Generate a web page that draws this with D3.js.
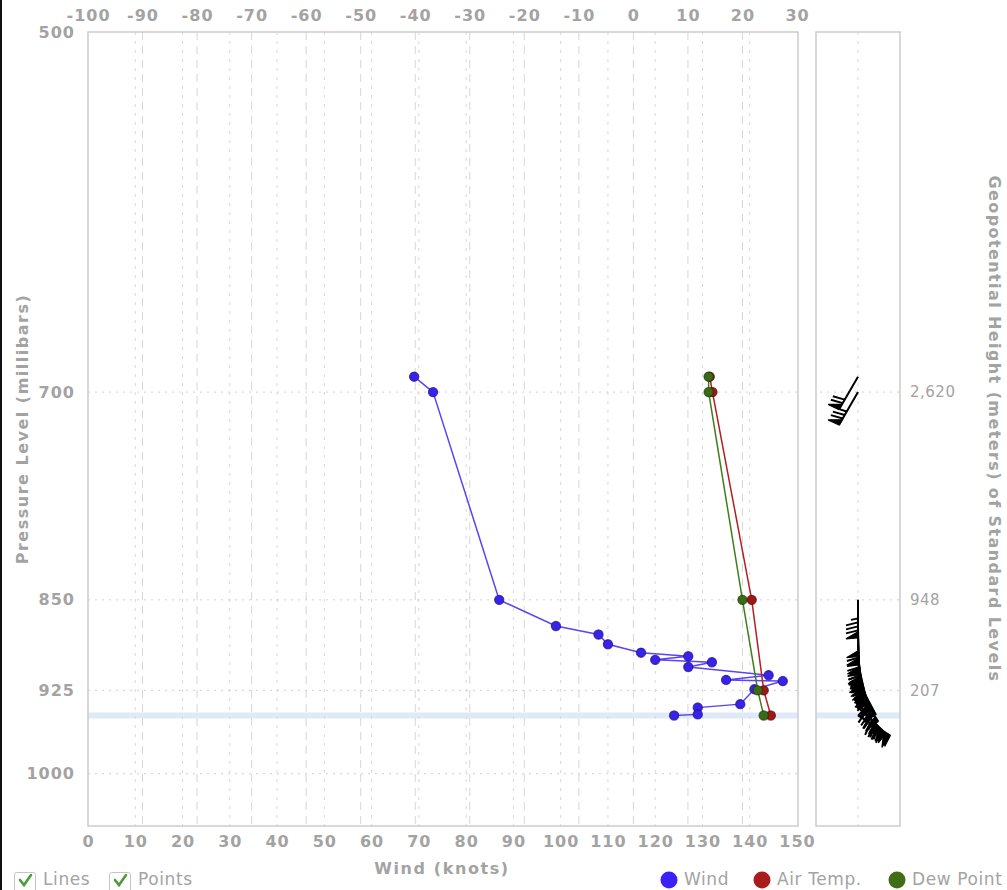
<!DOCTYPE html>
<html><head><meta charset="utf-8">
<script src="https://cdnjs.cloudflare.com/ajax/libs/d3/7.8.5/d3.min.js"></script>
<style>
body{margin:0;background:#fff;}
svg{display:block;}
</style></head>
<body><svg id="c" width="1007" height="890"></svg>
<script>
// ---- data ----
const windPressure = [690, 700, 850, 871, 878, 886, 893, 896, 899, 901, 905, 912, 916, 917, 924, 937, 940, 946, 947];
const windSpeed    = [69, 73, 87, 99, 108, 110, 117, 127, 120, 132, 127, 144, 135, 147, 141, 138, 129, 129, 124];
const windDir      = [210, 210, 180, 179, 178, 177, 175, 173, 171, 168, 165, 160, 155, 152, 148, 138, 133, 127, 122];
const tempPressure = [690, 700, 850, 925, 947];
const airTemp      = [14.0, 14.5, 21.7, 23.9, 25.2];
const dewPoint     = [13.8, 13.8, 20.0, 22.8, 23.9];
const pressureTicks = [500, 700, 850, 925, 1000];
const windTicks = d3.range(0, 151, 10);
const tempTicks = d3.range(-100, 31, 10);
const geoPressure = [700, 850, 925];
const geoHeight = [2620, 948, 207];
const surfacePressure = 947;
const legendItems = ["Wind", "Air Temp.", "Dew Point"];
const legendColors = ["#3d1ff8", "#a81c1c", "#3f6e17"];
const toggleItems = ["Lines", "Points"];

// ---- layout ----
const svg = d3.select("#c");
const L = 88, R = 798, T = 32, B = 826;
const pL = 816, pR = 900, pC = 858;
const gray = "#a3a3a3";
const font = "DejaVu Sans, Verdana, sans-serif";

const xWind = d3.scaleLinear().domain([0, 150]).range([88, 797]);
const xTemp = d3.scaleLinear().domain([-100, 30]).range([88, 797]);
const y = d3.scaleLog().domain([500, 1050]).range([T, B]);

// left black edge
svg.append("rect").attr("x", 0).attr("y", 0).attr("width", 2).attr("height", 890).attr("fill", "#111");

// surface band
[[L, R], [pL, pR]].forEach(([a, b]) => {
  svg.append("rect").attr("x", a).attr("width", b - a)
    .attr("y", y(surfacePressure) - 3).attr("height", 6).attr("fill", "#dfe9f8");
});

// grid
const grid = svg.append("g");
windTicks.filter(v => v > 0 && v < 150).forEach(v => {
  grid.append("line").attr("x1", xWind(v)).attr("x2", xWind(v)).attr("y1", T).attr("y2", B)
    .attr("stroke", "#d8d8d8").attr("stroke-width", 1).attr("stroke-dasharray", "3,6");
});
tempTicks.filter(v => v > -100 && v < 30).forEach(v => {
  grid.append("line").attr("x1", xTemp(v)).attr("x2", xTemp(v)).attr("y1", T).attr("y2", B)
    .attr("stroke", "#d6d6d6").attr("stroke-width", 1).attr("stroke-dasharray", "8,6");
});
pressureTicks.filter(v => v > 500).forEach(v => {
  grid.append("line").attr("x1", L).attr("x2", R).attr("y1", y(v)).attr("y2", y(v))
    .attr("stroke", "#cfcfcf").attr("stroke-width", 1).attr("stroke-dasharray", "2,5");
});
geoPressure.forEach(v => {
  grid.append("line").attr("x1", pL + 4).attr("x2", pR).attr("y1", y(v)).attr("y2", y(v))
    .attr("stroke", "#cfcfcf").attr("stroke-width", 1).attr("stroke-dasharray", "2,5");
});
grid.append("line").attr("x1", pC).attr("x2", pC).attr("y1", T).attr("y2", B)
  .attr("stroke", "#d8d8d8").attr("stroke-dasharray", "3,6");

// frames
svg.append("rect").attr("x", L).attr("y", T).attr("width", R - L).attr("height", B - T)
  .attr("fill", "none").attr("stroke", "#cccccc").attr("stroke-width", 1.5);
svg.append("rect").attr("x", pL).attr("y", T).attr("width", pR - pL).attr("height", B - T)
  .attr("fill", "none").attr("stroke", "#cccccc").attr("stroke-width", 1.5);

// axes
function styleAxis(g, bold, size, ls) {
  g.select(".domain").remove();
  g.selectAll(".tick line").remove();
  g.selectAll("text").attr("fill", gray).attr("font-family", font)
    .attr("font-weight", bold ? "bold" : "normal").attr("font-size", size)
    .attr("letter-spacing", ls);
}
const plain = d => String(d);
svg.append("g").attr("transform", `translate(0,${B})`)
  .call(d3.axisBottom(xWind).tickValues(windTicks).tickSize(0).tickPadding(10).tickFormat(plain))
  .call(g => styleAxis(g, true, 16, 1));
svg.append("g").attr("transform", `translate(0,${T})`)
  .call(d3.axisTop(xTemp).tickValues(tempTicks).tickSize(0).tickPadding(11).tickFormat(plain))
  .call(g => styleAxis(g, true, 16, 1));
svg.append("g").attr("transform", `translate(${L},0)`)
  .call(d3.axisLeft(y).tickValues(pressureTicks).tickSize(0).tickPadding(13).tickFormat(plain))
  .call(g => styleAxis(g, true, 16, 1));
const geoMap = new Map(geoPressure.map((p, i) => [p, geoHeight[i]]));
svg.append("g").attr("transform", `translate(${pR},0)`)
  .call(d3.axisRight(y).tickValues(geoPressure).tickSize(0).tickPadding(10).tickFormat(p => d3.format(",")(geoMap.get(p))))
  .call(g => styleAxis(g, false, 15, 0.5));

// axis titles
svg.append("text").attr("x", 442).attr("y", 874).attr("text-anchor", "middle")
  .attr("font-family", font).attr("font-weight", "bold").attr("font-size", 16).attr("letter-spacing", 1.6)
  .attr("fill", gray).text("Wind (knots)");
svg.append("text").attr("transform", `translate(28,${(T + B) / 2}) rotate(-90)`).attr("text-anchor", "middle")
  .attr("font-family", font).attr("font-weight", "bold").attr("font-size", 16).attr("letter-spacing", 1.5)
  .attr("fill", gray).text("Pressure Level (millibars)");
svg.append("text").attr("transform", `translate(989,${(T + B) / 2}) rotate(90)`).attr("text-anchor", "middle")
  .attr("font-family", font).attr("font-weight", "bold").attr("font-size", 16).attr("letter-spacing", 1.4)
  .attr("fill", gray).text("Geopotential Height (meters) of Standard Levels");

// series
function drawSeries(xScale, vals, press, lineColor, fill, stroke) {
  const pts = vals.map((v, i) => [xScale(v), y(press[i])]);
  svg.append("path").attr("d", d3.line()(pts)).attr("fill", "none")
    .attr("stroke", lineColor).attr("stroke-width", 1.5);
  svg.append("g").selectAll("circle").data(pts).join("circle")
    .attr("cx", d => d[0]).attr("cy", d => d[1]).attr("r", 4.6)
    .attr("fill", fill).attr("stroke", stroke).attr("stroke-width", 1.2).attr("stroke-opacity", 0.7);
}
drawSeries(xWind, windSpeed, windPressure, "#5a44f5", "#3a22ee", "#1b1070");
drawSeries(xTemp, airTemp, tempPressure, "#b42020", "#a31616", "#4a0a0a");
drawSeries(xTemp, dewPoint, tempPressure, "#3f7e1c", "#3b6b12", "#1a330a");

// wind barbs
function barbPath(cx, cy, speed, dir) {
  const Ls = 38, rad = dir * Math.PI / 180;
  const d = [Math.sin(rad), -Math.cos(rad)];
  const p = [-d[1], d[0]];
  const at = (t, o) => [cx + d[0] * t + p[0] * o, cy + d[1] * t + p[1] * o];
  let s = Math.round(speed / 5) * 5;
  const pen = Math.floor(s / 50); s -= pen * 50;
  const full = Math.floor(s / 10); s -= full * 10;
  const half = s >= 5;
  let path = `M${at(0, 0)}L${at(Ls, 0)}`;
  let pos = Ls;
  const polys = [];
  for (let i = 0; i < pen; i++) {
    polys.push(`M${at(pos, 0)}L${at(pos + 1, 12)}L${at(pos - 6, 0)}Z`);
    pos -= 7.5;
  }
  for (let i = 0; i < full; i++) {
    path += `M${at(pos, 0)}L${at(pos + 3, 12)}`;
    pos -= 4;
  }
  if (half) path += `M${at(pos, 0)}L${at(pos + 1.5, 7)}`;
  return { line: path, poly: polys.join("") };
}
const barbs = svg.append("g");
windSpeed.forEach((spd, i) => {
  const b = barbPath(pC, y(windPressure[i]), spd, windDir[i]);
  barbs.append("path").attr("d", b.line).attr("fill", "none").attr("stroke", "#000").attr("stroke-width", 2);
  if (b.poly) barbs.append("path").attr("d", b.poly).attr("fill", "#000").attr("stroke", "#000").attr("stroke-width", 1.2);
});

// legend (series)
const legX = [669, 762, 897];
legendItems.forEach((t, i) => {
  svg.append("circle").attr("cx", legX[i]).attr("cy", 880).attr("r", 8.5).attr("fill", legendColors[i]);
  svg.append("text").attr("x", legX[i] + 15).attr("y", 885).attr("font-family", font)
    .attr("font-size", 17).attr("letter-spacing", 0.6).attr("fill", gray).text(t);
});
// toggles
const togX = [14, 109];
toggleItems.forEach((t, i) => {
  const x0 = togX[i];
  svg.append("rect").attr("x", x0 + 0.5).attr("y", 872.5).attr("width", 21).attr("height", 21)
    .attr("rx", 2).attr("fill", "#fff").attr("stroke", "#c4c4c4");
  svg.append("path").attr("d", `M${x0 + 6},${880} L${x0 + 10},${885} L${x0 + 17},${875}`)
    .attr("fill", "none").attr("stroke", "#4f9a3c").attr("stroke-width", 2.6).attr("stroke-linecap", "round");
  svg.append("text").attr("x", x0 + 29).attr("y", 885).attr("font-family", font)
    .attr("font-size", 17).attr("letter-spacing", 0.6).attr("fill", gray).text(t);
});
</script></body></html>
